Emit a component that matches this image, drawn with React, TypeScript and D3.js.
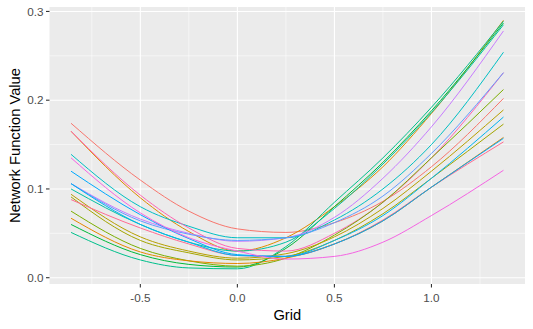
import React from "react";
import * as d3 from "d3";

const gridPoints = [-0.857, -0.5, -0.25, 0, 0.25, 0.5, 0.75, 1.0, 1.371];

const seriesColors = [
  "#F8766D", "#DE8C00", "#00C08B", "#00BA38", "#00C1A3", "#C77CFF",
  "#00BFC4", "#FF64B0", "#619CFF", "#7CAE00", "#B79F00", "#A3A500",
  "#FF6C91", "#E58700", "#00B4F0", "#00A9FF", "#F564E3",
];

const seriesValues = [
  [0.174, 0.110, 0.075, 0.055, 0.051, 0.062, 0.086, 0.125, 0.202],
  [0.165, 0.090, 0.052, 0.030, 0.045, 0.080, 0.125, 0.185, 0.290],
  [0.051, 0.020, 0.011, 0.010, 0.035, 0.085, 0.135, 0.192, 0.289],
  [0.060, 0.026, 0.015, 0.012, 0.033, 0.080, 0.130, 0.188, 0.287],
  [0.100, 0.060, 0.040, 0.030, 0.040, 0.078, 0.128, 0.186, 0.285],
  [0.106, 0.066, 0.050, 0.041, 0.045, 0.068, 0.112, 0.170, 0.278],
  [0.139, 0.080, 0.058, 0.045, 0.045, 0.065, 0.100, 0.150, 0.254],
  [0.165, 0.093, 0.056, 0.033, 0.030, 0.050, 0.085, 0.135, 0.231],
  [0.106, 0.064, 0.049, 0.042, 0.045, 0.062, 0.092, 0.140, 0.231],
  [0.075, 0.033, 0.019, 0.013, 0.022, 0.048, 0.085, 0.135, 0.212],
  [0.094, 0.046, 0.030, 0.022, 0.027, 0.046, 0.078, 0.120, 0.189],
  [0.091, 0.042, 0.028, 0.020, 0.024, 0.042, 0.072, 0.112, 0.173],
  [0.088, 0.056, 0.038, 0.025, 0.024, 0.038, 0.065, 0.102, 0.153],
  [0.067, 0.029, 0.019, 0.016, 0.022, 0.038, 0.064, 0.102, 0.158],
  [0.106, 0.060, 0.040, 0.025, 0.024, 0.042, 0.070, 0.112, 0.181],
  [0.120, 0.071, 0.044, 0.026, 0.024, 0.038, 0.064, 0.102, 0.157],
  [0.135, 0.073, 0.045, 0.030, 0.021, 0.024, 0.040, 0.070, 0.121],
];

const xTicks = [-0.5, 0, 0.5, 1.0];
const xMinor = [-0.75, -0.25, 0.25, 0.75, 1.25];
const yTicks = [0, 0.1, 0.2, 0.3];
const yMinor = [0.05, 0.15, 0.25];

const width = 533;
const height = 329;
const margin = { top: 7, right: 8, bottom: 45, left: 49.5 };

const App = () => {
  const x = d3
    .scaleLinear()
    .domain([-0.968, 1.482])
    .range([margin.left, width - margin.right]);
  const y = d3
    .scaleLinear()
    .domain([-0.0071, 0.305])
    .range([height - margin.bottom, margin.top]);

  const line = d3
    .line<number>()
    .x((_, i) => x(gridPoints[i]))
    .y((d) => y(d))
    .curve(d3.curveMonotoneX);

  const panelW = width - margin.left - margin.right;
  const panelH = height - margin.top - margin.bottom;
  const font = "'Liberation Sans', Arial, sans-serif";

  return (
    <svg
      width={width}
      height={height}
      style={{ position: "absolute", left: 0, top: 0, background: "#fff" }}
      fontFamily={font}
    >
      <rect x={margin.left} y={margin.top} width={panelW} height={panelH} fill="#EBEBEB" />
      {xMinor.map((t) => (
        <line key={"xm" + t} x1={x(t)} x2={x(t)} y1={margin.top} y2={margin.top + panelH} stroke="#fff" strokeWidth={0.55} />
      ))}
      {yMinor.map((t) => (
        <line key={"ym" + t} x1={margin.left} x2={margin.left + panelW} y1={y(t)} y2={y(t)} stroke="#fff" strokeWidth={0.55} />
      ))}
      {xTicks.map((t) => (
        <line key={"x" + t} x1={x(t)} x2={x(t)} y1={margin.top} y2={margin.top + panelH} stroke="#fff" strokeWidth={1.1} />
      ))}
      {yTicks.map((t) => (
        <line key={"y" + t} x1={margin.left} x2={margin.left + panelW} y1={y(t)} y2={y(t)} stroke="#fff" strokeWidth={1.1} />
      ))}

      {seriesValues.map((vals, i) => (
        <path key={i} d={line(vals) || ""} fill="none" stroke={seriesColors[i]} strokeWidth={1} />
      ))}

      {/* y axis */}
      {yTicks.map((t) => (
        <g key={"yt" + t}>
          <line x1={margin.left - 3.5} x2={margin.left} y1={y(t)} y2={y(t)} stroke="#333" strokeWidth={1.1} />
          <text x={margin.left - 6} y={y(t)} dy="0.35em" textAnchor="end" fontSize={11.7} fill="#4D4D4D">
            {t.toFixed(1)}
          </text>
        </g>
      ))}
      {/* x axis */}
      {xTicks.map((t) => (
        <g key={"xt" + t}>
          <line x1={x(t)} x2={x(t)} y1={margin.top + panelH} y2={margin.top + panelH + 3.5} stroke="#333" strokeWidth={1.1} />
          <text x={x(t)} y={302} textAnchor="middle" fontSize={11.7} fill="#4D4D4D">
            {t.toFixed(1)}
          </text>
        </g>
      ))}
      <text x={margin.left + panelW / 2} y={320} textAnchor="middle" fontSize={14.7} fill="#000">
        Grid
      </text>
      <text
        transform={`translate(19.5,${margin.top + panelH / 2}) rotate(-90)`}
        textAnchor="middle"
        fontSize={14.7}
        fill="#000"
      >
        Network Function Value
      </text>
    </svg>
  );
};

export default App;
